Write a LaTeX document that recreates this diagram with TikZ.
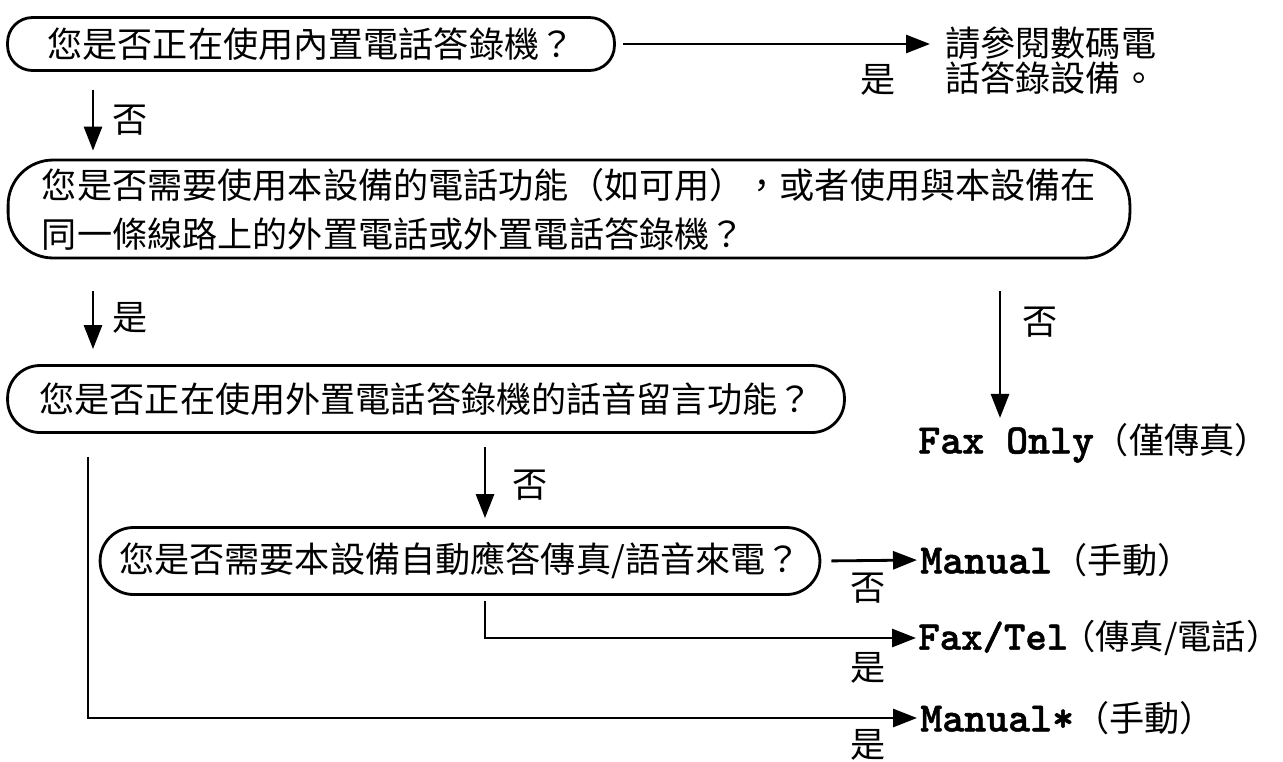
\documentclass[tikz,border=0pt]{standalone}
\usepackage{fontspec}
\setmainfont{Noto Sans CJK TC}
\newfontfamily\codefont{lmmonolt10-bold.otf}[Scale=1.19, FakeBold=1.2]
\usetikzlibrary{arrows.meta,positioning,calc}
\newcommand{\opt}[1]{{\codefont #1}}

\begin{document}
\begin{tikzpicture}[
    x=0.02cm, y=-0.02cm,
    font=\fontsize{20}{28}\selectfont,
    q/.style={draw, line width=1.6pt, rounded corners=0.5cm, minimum height=1.06cm, inner sep=0pt},
    res/.style={anchor=west, inner sep=0pt},
    lbl/.style={inner sep=0pt},
    arr/.style={-{Triangle[length=0.48cm, width=0.36cm]}, line width=1.6pt},
]
    \useasboundingbox (0,0) rectangle (1283,761);

    % Questions
    \node[q, minimum width=12.14cm] (q1) at (311,44) {您是否正在使用內置電話答錄機？};
    \node[q, minimum width=22.44cm, minimum height=1.96cm, rounded corners=0.9cm, align=left] (q2) at (569,209)
        {您是否需要使用本設備的電話功能（如可用），或者使用與本設備在\\同一條線路上的外置電話或外置電話答錄機？};
    \node[q, minimum width=16.74cm, minimum height=1.34cm, rounded corners=0.65cm] (q3) at (426,399) {您是否正在使用外置電話答錄機的話音留言功能？};
    \node[q, minimum width=14.4cm, minimum height=1.34cm, rounded corners=0.67cm] (q4) at (460,561) {您是否需要本設備自動應答傳真/語音來電？};

    % Results
    \node[res, align=left, font=\fontsize{20}{20}\selectfont] (ref) at (945,61) {請參閱數碼電\\話答錄設備。};
    \node[res] (faxonly) at (918,443) {\opt{Fax Only}（僅傳真）};
    \node[res] (manual) at (920,560) {\opt{Manual}（手動）};
    \node[res, font=\fontsize{19.5}{28}\selectfont] (faxtel) at (918,638) {\opt{Fax/Tel}\kern-0.2em（傳真/電話）};
    \node[res] (manualstar) at (920,718) {\opt{Manual*}（手動）};

    % Columns of the connectors
    \coordinate (xa) at (93,0);
    \coordinate (xb) at (1000,0);
    \coordinate (xc) at (485,0);
    \coordinate (xd) at (88,0);

    % Arrows
    \draw[arr, shorten <=0.14cm, shorten >=0.3cm] (q1.east) -- (q1.east -| ref.west);
    \draw[arr, shorten <=0.36cm, shorten >=0.16cm] (q1.south -| xa) -- (q2.north -| xa);
    \draw[arr, shorten <=0.64cm, shorten >=0.3cm] (q2.south -| xa) -- (q3.north -| xa);
    \draw[arr, shorten <=0.64cm, shorten >=0.1cm] (q2.south -| xb) -- (faxonly.north -| xb);
    \draw[arr, shorten <=0.26cm, shorten >=0.16cm] (q3.south -| xc) -- (q4.north -| xc);
    \draw[arr, shorten <=0.2cm, shorten >=0.06cm] (q4.east) -- (manual.west);
    \draw[arr, shorten <=0.1cm, shorten >=0.04cm] (q4.south -| xc) |- (faxtel.west);
    \draw[arr, shorten <=0.46cm, shorten >=0.06cm] (q3.south -| xd) |- (manualstar.west);

    % Labels
    \node[lbl] (l1) at (878,80) {是};
    \node[lbl] (l2) at (130,120) {否};
    \node[lbl] (l3) at (130,318) {是};
    \node[lbl] (l4) at (1040,322) {否};
    \node[lbl] (l5) at (530,485) {否};
    \node[lbl] (l6) at (868,588) {否};
    \node[lbl] (l7) at (868,668) {是};
    \node[lbl] (l8) at (868,745) {是};
\end{tikzpicture}
\end{document}
